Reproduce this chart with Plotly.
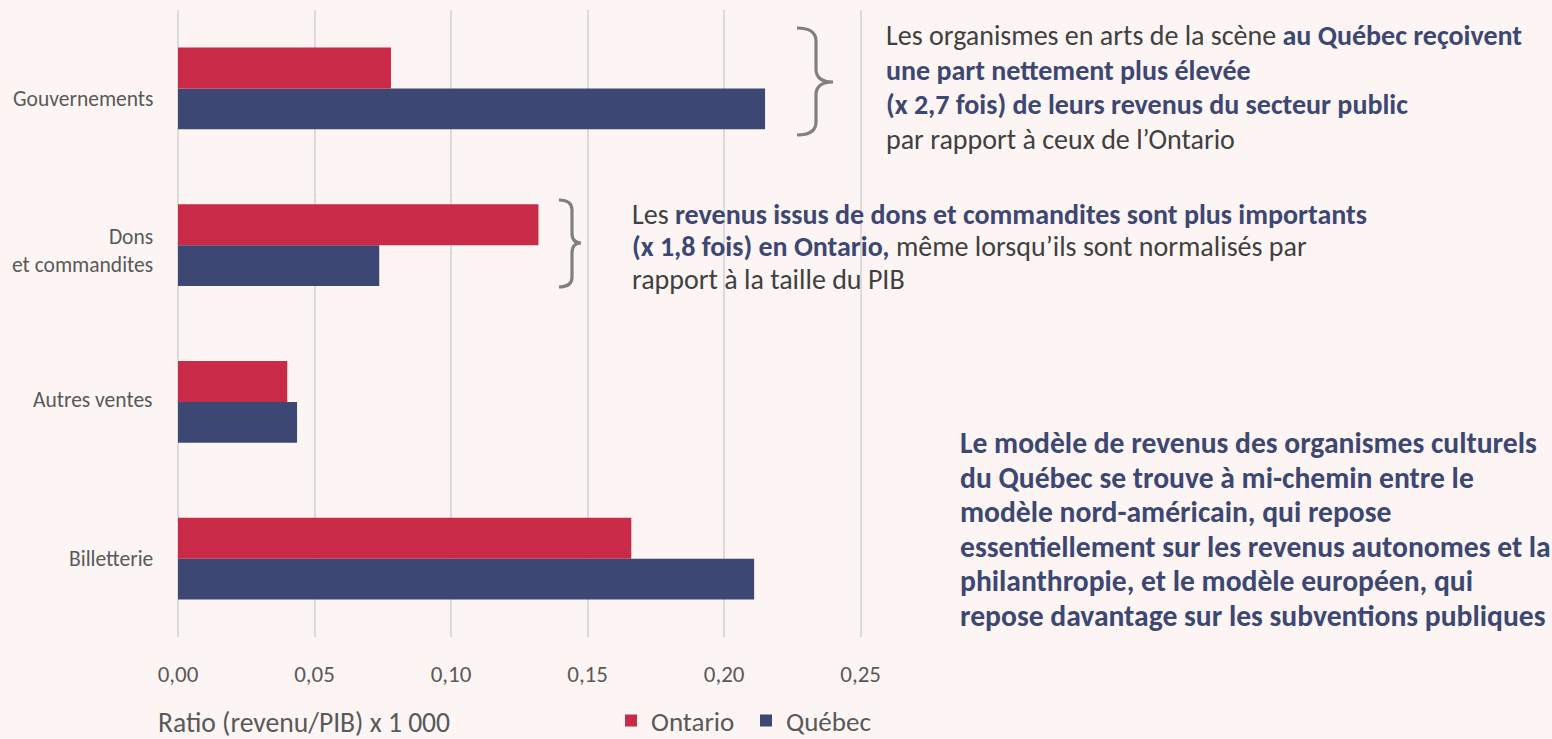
import plotly.graph_objects as go

categories = ["Gouvernements", "Dons<br>et commandites", "Autres ventes", "Billetterie"]
ontario = [0.078, 0.132, 0.040, 0.166]
quebec = [0.215, 0.0737, 0.0436, 0.211]
x_ticks = [0.0, 0.05, 0.10, 0.15, 0.20, 0.25]

RED = "#C82A48"
BLUE = "#3C4773"
BG = "#FDF5F3"
GRID = "#DCDADA"
FONT = "Calibri, Carlito, Lato, sans-serif"

W, H = 1552, 739
L, R_EDGE, T, B_EDGE = 178, 862, 10, 637


def px(x):
    return (x - L) / (R_EDGE - L)


def py(y):
    return (B_EDGE - y) / (B_EDGE - T)


fig = go.Figure()
fig.add_trace(go.Bar(y=categories, x=quebec, name="Québec", orientation="h",
                     marker=dict(color=BLUE, line=dict(width=0)), hoverinfo="x+y"))
fig.add_trace(go.Bar(y=categories, x=ontario, name="Ontario", orientation="h",
                     marker=dict(color=RED, line=dict(width=0)), hoverinfo="x+y"))

annotations = []

# category labels (placed as text next to the axis, slight vertical nudges as in the original)
label_shift = [-11, -6, 2, 0]
for cat, dy in zip(categories, label_shift):
    annotations.append(dict(xref="paper", yref="y", x=0, y=cat, text=cat, showarrow=False,
                            xanchor="right", yanchor="middle", align="right",
                            xshift=-23, yshift=dy,
                            font=dict(family=FONT, size=21.5, color="#595959")))


def line(x, y, text, size, color="#404040"):
    annotations.append(dict(xref="paper", yref="paper", x=px(x), y=py(y), text=text,
                            showarrow=False, xanchor="left", yanchor="middle",
                            xshift=-2, font=dict(family=FONT, size=size, color=color)))


def b(t):
    return f"<b><span style='color:{BLUE}'>{t}</span></b>"


top_lines = [
    "Les organismes en arts de la scène " + b("au Québec reçoivent"),
    b("une part nettement plus élevée"),
    b("(x 2,7 fois) de leurs revenus du secteur public"),
    "par rapport à ceux de l’Ontario",
]
for i, t in enumerate(top_lines):
    line(886, 36 + i * 34.5, t, 28)

mid_lines = [
    "Les " + b("revenus issus de dons et commandites sont plus importants"),
    b("(x 1,8 fois) en Ontario,") + " même lorsqu’ils sont normalisés par",
    "rapport à la taille du PIB",
]
for i, t in enumerate(mid_lines):
    line(632, 214 + i * 32.5, t, 28)

bot_lines = [
    "Le modèle de revenus des organismes culturels",
    "du Québec se trouve à mi-chemin entre le",
    "modèle nord-américain, qui repose",
    "essentiellement sur les revenus autonomes et la",
    "philanthropie, et le modèle européen, qui",
    "repose davantage sur les subventions publiques",
]
for i, t in enumerate(bot_lines):
    line(960, 443 + i * 34.6, f"<b>{t}</b>", 29.6, BLUE)

line(158, 723, "Ratio (revenu/PIB) x 1 000", 27.6, "#595959")


def brace(x0, y0, xv, xp, ym, y1, r):
    # curly brace opening to the left, pointing right at (xp, ym)
    p = (f"M {px(x0)},{py(y0)} "
         f"Q {px(xv)},{py(y0)} {px(xv)},{py(y0 + r)} "
         f"L {px(xv)},{py(ym - r)} "
         f"Q {px(xv)},{py(ym)} {px(xp)},{py(ym)} "
         f"Q {px(xv)},{py(ym)} {px(xv)},{py(ym + r)} "
         f"L {px(xv)},{py(y1 - r)} "
         f"Q {px(xv)},{py(y1)} {px(x0)},{py(y1)}")
    return dict(type="path", xref="paper", yref="paper", path=p,
                line=dict(color="#808080", width=3.2), layer="above")


shapes = [
    brace(797, 28, 816, 833, 82, 135, 13),
    brace(559, 200, 572, 581, 243, 287, 10),
]

fig.update_layout(
    width=W, height=H,
    paper_bgcolor=BG, plot_bgcolor=BG,
    margin=dict(l=L, r=W - R_EDGE, t=T, b=H - B_EDGE, pad=0, autoexpand=False),
    barmode="group", bargap=0.48, bargroupgap=0,
    separators=", ",
    font=dict(family=FONT, color="#595959"),
    xaxis=dict(range=[0, 0.2505], tickvals=x_ticks, tickformat=".2f",
               showgrid=True, gridcolor=GRID, gridwidth=2,
               zeroline=True, zerolinecolor=GRID, zerolinewidth=2,
               showline=False, ticks="outside", ticklen=16,
               tickcolor="rgba(0,0,0,0)", tickfont=dict(size=23, color="#595959", family=FONT),
               fixedrange=True),
    yaxis=dict(categoryorder="array", categoryarray=categories[::-1],
               showgrid=False, zeroline=False, showline=False,
               showticklabels=False, fixedrange=True),
    legend=dict(orientation="h", xref="container", yref="container",
                x=611 / W, y=1 - 721 / H, xanchor="left", yanchor="middle",
                traceorder="reversed", font=dict(size=27, color="#595959", family=FONT),
                bgcolor="rgba(0,0,0,0)", itemwidth=30, entrywidth=90),
    annotations=annotations,
    shapes=shapes,
    showlegend=True,
)

fig.write_html("out.html", config=dict(displayModeBar=False), post_script=(
    "document.body.style.margin='0';document.body.style.padding='0';"
    "document.body.style.background='" + BG + "';"))
